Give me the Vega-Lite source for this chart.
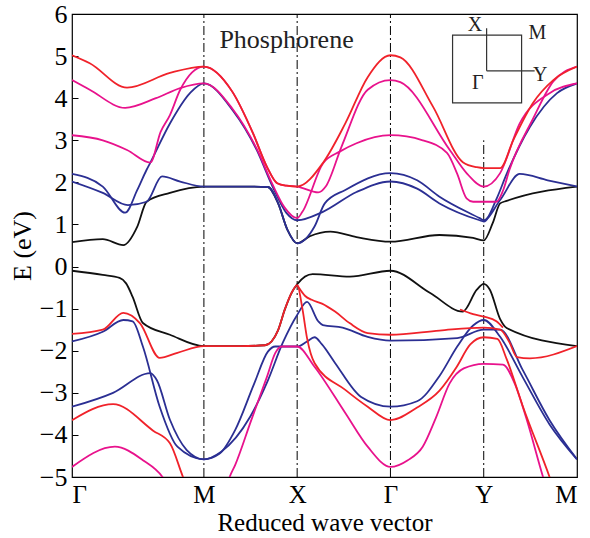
{
"$schema": "https://vega.github.io/schema/vega-lite/v6.json",
"width": 505, "height": 463,
"autosize": {"type": "none"},
"padding": {"left": 72, "top": 14, "right": 13, "bottom": 61},
"config": {"view": {"stroke": "black", "strokeWidth": 1.2}, "font": "Liberation Serif"},
"datasets": {
"k": [
{"b":"kc","x":0,"e":0.58},{"b":"kc","x":0.33,"e":0.65},{"b":"kc","x":0.55,"e":0.51},{"b":"kc","x":0.70,"e":0.95},{"b":"kc","x":0.80,"e":1.54},{"b":"kc","x":1.05,"e":1.75},{"b":"kc","x":1.414,"e":1.9},{"b":"kc","x":1.8,"e":1.9},{"b":"kc","x":2.10,"e":1.89},{"b":"kc","x":2.21,"e":1.5},{"b":"kc","x":2.31,"e":0.87},{"b":"kc","x":2.414,"e":0.55},{"b":"kc","x":2.55,"e":0.72},{"b":"kc","x":2.77,"e":0.83},{"b":"kc","x":3.05,"e":0.7},{"b":"kc","x":3.414,"e":0.59},{"b":"kc","x":3.94,"e":0.75},{"b":"kc","x":4.3,"e":0.68},{"b":"kc","x":4.414,"e":0.62},{"b":"kc","x":4.51,"e":1.03},{"b":"kc","x":4.59,"e":1.5},{"b":"kc","x":4.66,"e":1.56},{"b":"kc","x":5.414,"e":1.9},
{"b":"kv","x":0,"e":-0.1},{"b":"kv","x":0.33,"e":-0.2},{"b":"kv","x":0.51,"e":-0.27},{"b":"kv","x":0.58,"e":-0.4},{"b":"kv","x":0.65,"e":-0.72},{"b":"kv","x":0.76,"e":-1.34},{"b":"kv","x":1.05,"e":-1.62},{"b":"kv","x":1.414,"e":-1.89},{"b":"kv","x":1.8,"e":-1.89},{"b":"kv","x":2.07,"e":-1.87},{"b":"kv","x":2.21,"e":-1.51},{"b":"kv","x":2.28,"e":-1.03},{"b":"kv","x":2.36,"e":-0.6},{"b":"kv","x":2.414,"e":-0.42},{"b":"kv","x":2.58,"e":-0.18},{"b":"kv","x":2.98,"e":-0.24},{"b":"kv","x":3.414,"e":-0.1},{"b":"kv","x":3.84,"e":-0.63},{"b":"kv","x":4.19,"e":-1.07},{"b":"kv","x":4.34,"e":-0.55},{"b":"kv","x":4.414,"e":-0.41},{"b":"kv","x":4.48,"e":-0.55},{"b":"kv","x":4.59,"e":-1.25},{"b":"kv","x":4.66,"e":-1.46},{"b":"kv","x":5.414,"e":-1.89}
],
"bl": [
{"b":"b1","x":0,"e":2.02},{"b":"b1","x":0.33,"e":1.75},{"b":"b1","x":0.60,"e":1.46},{"b":"b1","x":0.80,"e":1.54},{"b":"b1","x":0.965,"e":2.14},{"b":"b1","x":1.16,"e":2.02},{"b":"b1","x":1.414,"e":1.9},{"b":"b1","x":1.8,"e":1.9},{"b":"b1","x":2.10,"e":1.89},{"b":"b1","x":2.21,"e":1.5},{"b":"b1","x":2.31,"e":0.87},{"b":"b1","x":2.414,"e":0.55},{"b":"b1","x":2.60,"e":0.95},{"b":"b1","x":2.71,"e":1.5},{"b":"b1","x":2.93,"e":1.82},{"b":"b1","x":3.414,"e":2.22},{"b":"b1","x":3.70,"e":2.05},{"b":"b1","x":3.94,"e":1.66},{"b":"b1","x":4.37,"e":1.15},{"b":"b1","x":4.414,"e":1.1},{"b":"b1","x":4.59,"e":1.58},{"b":"b1","x":4.80,"e":2.2},{"b":"b1","x":5.1,"e":2.05},{"b":"b1","x":5.414,"e":1.9},
{"b":"b2","x":0,"e":2.2},{"b":"b2","x":0.33,"e":1.9},{"b":"b2","x":0.57,"e":1.28},{"b":"b2","x":0.70,"e":1.82},{"b":"b2","x":0.80,"e":2.3},{"b":"b2","x":0.84,"e":2.47},{"b":"b2","x":1.05,"e":3.4},{"b":"b2","x":1.265,"e":4.12},{"b":"b2","x":1.414,"e":4.35},{"b":"b2","x":1.72,"e":3.72},{"b":"b2","x":1.98,"e":2.77},{"b":"b2","x":2.15,"e":1.9},{"b":"b2","x":2.30,"e":1.27},{"b":"b2","x":2.414,"e":1.1},{"b":"b2","x":2.69,"e":1.3},{"b":"b2","x":3.05,"e":1.77},{"b":"b2","x":3.414,"e":2.02},{"b":"b2","x":3.70,"e":1.85},{"b":"b2","x":3.94,"e":1.5},{"b":"b2","x":4.37,"e":1.1},{"b":"b2","x":4.414,"e":1.07},{"b":"b2","x":4.55,"e":1.6},{"b":"b2","x":4.66,"e":2.2},{"b":"b2","x":4.91,"e":3.32},{"b":"b2","x":5.20,"e":4.12},{"b":"b2","x":5.414,"e":4.35},
{"b":"bv1","x":0,"e":-1.78},{"b":"bv1","x":0.33,"e":-1.55},{"b":"bv1","x":0.55,"e":-1.27},{"b":"bv1","x":0.65,"e":-1.3},{"b":"bv1","x":0.76,"e":-1.9},{"b":"bv1","x":0.94,"e":-3.33},{"b":"bv1","x":1.13,"e":-4.28},{"b":"bv1","x":1.414,"e":-4.58},{"b":"bv1","x":1.6,"e":-4.4},{"b":"bv1","x":1.91,"e":-3.57},{"b":"bv1","x":2.09,"e":-2.76},{"b":"bv1","x":2.26,"e":-1.81},{"b":"bv1","x":2.414,"e":-1.15},{"b":"bv1","x":2.52,"e":-0.84},{"b":"bv1","x":2.64,"e":-1.3},{"b":"bv1","x":2.69,"e":-1.39},{"b":"bv1","x":2.9,"e":-1.45},{"b":"bv1","x":3.17,"e":-1.67},{"b":"bv1","x":3.414,"e":-1.76},{"b":"bv1","x":4.13,"e":-1.7},{"b":"bv1","x":4.414,"e":-1.5},{"b":"bv1","x":4.59,"e":-1.5},{"b":"bv1","x":4.83,"e":-2.45},{"b":"bv1","x":5.12,"e":-3.65},{"b":"bv1","x":5.414,"e":-4.58},
{"b":"bv2","x":0,"e":-3.33},{"b":"bv2","x":0.44,"e":-3.0},{"b":"bv2","x":0.84,"e":-2.53},{"b":"bv2","x":0.91,"e":-2.7},{"b":"bv2","x":1.05,"e":-3.64},{"b":"bv2","x":1.23,"e":-4.36},{"b":"bv2","x":1.414,"e":-4.58},{"b":"bv2","x":1.58,"e":-4.45},{"b":"bv2","x":1.75,"e":-3.88},{"b":"bv2","x":1.95,"e":-2.8},{"b":"bv2","x":2.10,"e":-2.02},{"b":"bv2","x":2.18,"e":-1.9},{"b":"bv2","x":2.414,"e":-1.9},{"b":"bv2","x":2.52,"e":-1.78},{"b":"bv2","x":2.60,"e":-1.68},{"b":"bv2","x":2.68,"e":-1.85},{"b":"bv2","x":2.82,"e":-2.29},{"b":"bv2","x":3.1,"e":-3.1},{"b":"bv2","x":3.414,"e":-3.33},{"b":"bv2","x":3.70,"e":-3.2},{"b":"bv2","x":3.94,"e":-2.6},{"b":"bv2","x":4.13,"e":-1.9},{"b":"bv2","x":4.30,"e":-1.4},{"b":"bv2","x":4.414,"e":-1.27},{"b":"bv2","x":4.59,"e":-1.67},{"b":"bv2","x":4.83,"e":-2.62},{"b":"bv2","x":5.12,"e":-3.75},{"b":"bv2","x":5.414,"e":-4.58}
],
"mg": [
{"b":"m1","x":0,"e":4.43},{"b":"m1","x":0.19,"e":4.2},{"b":"m1","x":0.57,"e":3.77},{"b":"m1","x":0.90,"e":4.0},{"b":"m1","x":1.16,"e":4.24},{"b":"m1","x":1.414,"e":4.35},{"b":"m1","x":1.72,"e":3.75},{"b":"m1","x":1.98,"e":2.8},{"b":"m1","x":2.15,"e":1.95},{"b":"m1","x":2.28,"e":1.4},{"b":"m1","x":2.414,"e":1.15},{"b":"m1","x":2.47,"e":1.3},{"b":"m1","x":2.69,"e":2.45},{"b":"m1","x":2.87,"e":2.73},{"b":"m1","x":3.05,"e":2.93},{"b":"m1","x":3.414,"e":3.12},{"b":"m1","x":3.76,"e":3.0},{"b":"m1","x":4.02,"e":2.7},{"b":"m1","x":4.13,"e":2.2},{"b":"m1","x":4.23,"e":1.62},{"b":"m1","x":4.30,"e":1.54},{"b":"m1","x":4.55,"e":1.54},{"b":"m1","x":4.62,"e":1.8},{"b":"m1","x":4.69,"e":2.3},{"b":"m1","x":4.94,"e":3.5},{"b":"m1","x":5.16,"e":4.4},{"b":"m1","x":5.414,"e":4.75},
{"b":"m2","x":0,"e":3.12},{"b":"m2","x":0.33,"e":3.0},{"b":"m2","x":0.59,"e":2.77},{"b":"m2","x":0.84,"e":2.47},{"b":"m2","x":0.95,"e":3.2},{"b":"m2","x":1.05,"e":3.6},{"b":"m2","x":1.16,"e":4.2},{"b":"m2","x":1.414,"e":4.75},{"b":"m2","x":1.72,"e":4.15},{"b":"m2","x":1.94,"e":3.17},{"b":"m2","x":2.09,"e":2.37},{"b":"m2","x":2.20,"e":1.98},{"b":"m2","x":2.30,"e":1.92},{"b":"m2","x":2.414,"e":1.9},{"b":"m2","x":2.64,"e":1.76},{"b":"m2","x":2.72,"e":1.9},{"b":"m2","x":2.89,"e":2.85},{"b":"m2","x":3.17,"e":4.2},{"b":"m2","x":3.414,"e":4.43},{"b":"m2","x":3.52,"e":4.38},{"b":"m2","x":4.05,"e":2.77},{"b":"m2","x":4.23,"e":2.22},{"b":"m2","x":4.414,"e":1.9},{"b":"m2","x":4.59,"e":2.22},{"b":"m2","x":4.80,"e":3.4},{"b":"m2","x":5.12,"e":4.12},{"b":"m2","x":5.414,"e":4.35},
{"b":"mv","x":0,"e":-4.76},{"b":"mv","x":0.46,"e":-4.28},{"b":"mv","x":0.76,"e":-4.6},{"b":"mv","x":0.97,"e":-5.0},{"b":"mv","x":1.1,"e":-5.5},{"b":"mv","x":1.414,"e":-6.2},{"b":"mv","x":1.6,"e":-5.7},{"b":"mv","x":1.69,"e":-5.0},{"b":"mv","x":1.75,"e":-4.71},{"b":"mv","x":1.92,"e":-3.66},{"b":"mv","x":2.09,"e":-2.62},{"b":"mv","x":2.18,"e":-2.05},{"b":"mv","x":2.25,"e":-1.9},{"b":"mv","x":2.414,"e":-1.9},{"b":"mv","x":2.60,"e":-2.38},{"b":"mv","x":2.93,"e":-3.48},{"b":"mv","x":3.17,"e":-4.28},{"b":"mv","x":3.414,"e":-4.76},{"b":"mv","x":3.60,"e":-4.6},{"b":"mv","x":3.76,"e":-4.28},{"b":"mv","x":3.90,"e":-3.6},{"b":"mv","x":4.05,"e":-2.77},{"b":"mv","x":4.20,"e":-2.42},{"b":"mv","x":4.414,"e":-2.31},{"b":"mv","x":4.62,"e":-2.33},{"b":"mv","x":4.75,"e":-2.8},{"b":"mv","x":4.87,"e":-3.6},{"b":"mv","x":5.05,"e":-5.0},{"b":"mv","x":5.12,"e":-5.5}
],
"rd": [
{"b":"r1","x":0,"e":5.02},{"b":"r1","x":0.19,"e":4.83},{"b":"r1","x":0.59,"e":4.25},{"b":"r1","x":1.05,"e":4.6},{"b":"r1","x":1.414,"e":4.75},{"b":"r1","x":1.72,"e":4.15},{"b":"r1","x":1.94,"e":3.17},{"b":"r1","x":2.09,"e":2.37},{"b":"r1","x":2.20,"e":1.98},{"b":"r1","x":2.30,"e":1.92},{"b":"r1","x":2.414,"e":1.9},{"b":"r1","x":2.69,"e":2.46},{"b":"r1","x":2.93,"e":3.4},{"b":"r1","x":3.17,"e":4.5},{"b":"r1","x":3.414,"e":5.02},{"b":"r1","x":3.52,"e":4.97},{"b":"r1","x":3.87,"e":3.8},{"b":"r1","x":4.19,"e":2.48},{"b":"r1","x":4.34,"e":2.36},{"b":"r1","x":4.414,"e":2.34},{"b":"r1","x":4.59,"e":2.34},{"b":"r1","x":4.73,"e":3.0},{"b":"r1","x":4.94,"e":3.88},{"b":"r1","x":5.16,"e":4.43},{"b":"r1","x":5.414,"e":4.75},
{"b":"rv1","x":0,"e":-1.6},{"b":"rv1","x":0.33,"e":-1.5},{"b":"rv1","x":0.55,"e":-1.1},{"b":"rv1","x":0.73,"e":-1.35},{"b":"rv1","x":0.94,"e":-2.17},{"b":"rv1","x":1.13,"e":-2.05},{"b":"rv1","x":1.414,"e":-1.89},{"b":"rv1","x":1.8,"e":-1.89},{"b":"rv1","x":2.07,"e":-1.87},{"b":"rv1","x":2.21,"e":-1.51},{"b":"rv1","x":2.28,"e":-1.03},{"b":"rv1","x":2.36,"e":-0.6},{"b":"rv1","x":2.414,"e":-0.44},{"b":"rv1","x":2.47,"e":-1.0},{"b":"rv1","x":2.52,"e":-1.7},{"b":"rv1","x":2.60,"e":-2.29},{"b":"rv1","x":2.93,"e":-2.93},{"b":"rv1","x":3.17,"e":-3.33},{"b":"rv1","x":3.414,"e":-3.65},{"b":"rv1","x":3.70,"e":-3.35},{"b":"rv1","x":3.94,"e":-2.95},{"b":"rv1","x":4.12,"e":-2.4},{"b":"rv1","x":4.27,"e":-1.85},{"b":"rv1","x":4.414,"e":-1.68},{"b":"rv1","x":4.56,"e":-1.72},{"b":"rv1","x":4.66,"e":-2.2},{"b":"rv1","x":4.83,"e":-3.3},{"b":"rv1","x":5.12,"e":-5.0},{"b":"rv1","x":5.2,"e":-5.5},
{"b":"rv2","x":0,"e":-3.65},{"b":"rv2","x":0.44,"e":-3.27},{"b":"rv2","x":0.87,"e":-3.9},{"b":"rv2","x":1.05,"e":-4.2},{"b":"rv2","x":1.19,"e":-5.0},{"b":"rv2","x":1.3,"e":-5.6},
{"b":"rv3","x":2.414,"e":-0.44},{"b":"rv3","x":2.50,"e":-0.7},{"b":"rv3","x":2.57,"e":-0.79},{"b":"rv3","x":2.68,"e":-0.88},{"b":"rv3","x":2.82,"e":-1.07},{"b":"rv3","x":2.98,"e":-1.35},{"b":"rv3","x":3.17,"e":-1.58},{"b":"rv3","x":3.414,"e":-1.62},{"b":"rv3","x":3.94,"e":-1.52},{"b":"rv3","x":4.414,"e":-1.45},{"b":"rv3","x":4.59,"e":-1.5},{"b":"rv3","x":4.69,"e":-1.8},{"b":"rv3","x":4.77,"e":-2.15},{"b":"rv3","x":4.91,"e":-2.18},{"b":"rv3","x":5.414,"e":-1.89},
{"b":"rv4","x":4.16,"e":-1.02},{"b":"rv4","x":4.30,"e":-1.13},{"b":"rv4","x":4.414,"e":-1.19},{"b":"rv4","x":4.55,"e":-1.3},{"b":"rv4","x":4.62,"e":-1.45}
],
"vl": [
{"x":1.414,"lo":-5,"hi":6},{"x":2.414,"lo":-5,"hi":6},{"x":3.414,"lo":-5,"hi":6},{"x":4.414,"lo":-5,"hi":3.0}
]
},
"encoding": {
"x": {"field": "x", "type": "quantitative", "scale": {"domain": [0, 5.414], "nice": false, "zero": false},
 "axis": {"values": [0, 1.414, 2.414, 3.414, 4.414, 5.414], "labelExpr": "datum.value < 0.5 ? 'Γ' : datum.value < 2 ? 'M' : datum.value < 3 ? 'X' : datum.value < 4 ? 'Γ' : datum.value < 5 ? 'Y' : 'M'", "title": "Reduced wave vector", "domain": false, "ticks": false, "grid": false, "labelFontSize": 25, "labelColor": "black", "labelPadding": 5, "titleFontSize": 25, "titleFontWeight": "normal", "titleColor": "black", "titlePadding": 3, "labelFont": "Liberation Serif", "titleFont": "Liberation Serif"}},
"y": {"field": "e", "type": "quantitative", "scale": {"domain": [-5, 6], "nice": false, "zero": false},
 "axis": {"values": [-5,-4,-3,-2,-1,0,1,2,3,4,5,6], "title": "E (eV)", "domain": false, "grid": false, "tickSize": -6, "tickColor": "black", "labelFontSize": 26, "labelColor": "black", "labelPadding": 11, "titleFontSize": 26, "titleFontWeight": "normal", "titleColor": "black", "titlePadding": 4, "labelFont": "Liberation Serif", "titleFont": "Liberation Serif"}}
},
"layer": [
{"data": {"name": "vl"}, "mark": {"type": "rule", "color": "black", "strokeWidth": 1, "strokeDash": [9, 3, 2, 3]},
 "encoding": {"x": {"field": "x", "type": "quantitative"}, "y": {"field": "lo", "type": "quantitative"}, "y2": {"field": "hi"}}},
{"data": {"name": "k"}, "mark": {"type": "line", "color": "#111111", "strokeWidth": 1.8, "interpolate": "monotone", "clip": true}, "encoding": {"detail": {"field": "b"}}},
{"data": {"name": "bl"}, "mark": {"type": "line", "color": "#2b2f93", "strokeWidth": 1.8, "interpolate": "monotone", "clip": true}, "encoding": {"detail": {"field": "b"}}},
{"data": {"name": "mg"}, "mark": {"type": "line", "color": "#e8128c", "strokeWidth": 1.8, "interpolate": "monotone", "clip": true}, "encoding": {"detail": {"field": "b"}}},
{"data": {"name": "rd"}, "mark": {"type": "line", "color": "#f0222a", "strokeWidth": 1.8, "interpolate": "monotone", "clip": true}, "encoding": {"detail": {"field": "b"}}},
{"data": {"values": [{"x1": 4.08, "x2": 4.82, "y1": 3.89, "y2": 5.5}]}, "mark": {"type": "rect", "fill": null, "stroke": "#333333", "strokeWidth": 1.2},
 "encoding": {"x": {"field": "x1", "type": "quantitative"}, "x2": {"field": "x2"}, "y": {"field": "y1", "type": "quantitative"}, "y2": {"field": "y2"}}},
{"data": {"values": [{"x1": 4.445, "x2": 4.445, "y1": 4.65, "y2": 5.66}, {"x1": 4.445, "x2": 4.96, "y1": 4.65, "y2": 4.65}]}, "mark": {"type": "rule", "color": "#333333", "strokeWidth": 1.2},
 "encoding": {"x": {"field": "x1", "type": "quantitative"}, "x2": {"field": "x2"}, "y": {"field": "y1", "type": "quantitative"}, "y2": {"field": "y2"}}},
{"data": {"values": [{"x": 4.32, "e": 5.74, "t": "X"}, {"x": 4.99, "e": 5.55, "t": "M"}, {"x": 5.02, "e": 4.55, "t": "Y"}, {"x": 4.35, "e": 4.36, "t": "Γ"}]}, "mark": {"type": "text", "font": "Liberation Serif", "fontSize": 20, "color": "#222222", "baseline": "middle", "align": "center"},
 "encoding": {"text": {"field": "t"}}},
{"data": {"values": [{"x": 2.30, "e": 5.19, "t": "Phosphorene"}]}, "mark": {"type": "text", "font": "Liberation Serif", "fontSize": 26, "color": "#222222", "baseline": "alphabetic", "align": "center"},
 "encoding": {"text": {"field": "t"}}}
]
}
